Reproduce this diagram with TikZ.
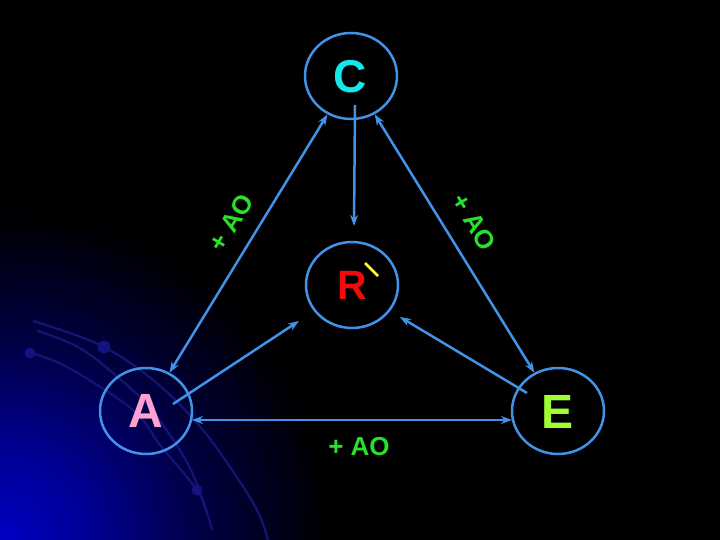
\documentclass[tikz,border=0pt]{standalone}
\usepackage{fontspec}
\setmainfont{Liberation Sans}
\usetikzlibrary{shapes.geometric,arrows.meta}
\definecolor{lineblue}{RGB}{66,146,232}
\definecolor{ccyan}{RGB}{20,232,232}
\definecolor{rred}{RGB}{240,10,10}
\definecolor{apink}{RGB}{255,160,210}
\definecolor{egreen}{RGB}{160,255,50}
\definecolor{aogreen}{RGB}{40,225,40}
\definecolor{pyellow}{RGB}{255,255,40}
\definecolor{arcblue}{RGB}{20,20,115}
\definecolor{cornerblue}{RGB}{0,0,195}
\pgfdeclareradialshading{cornerglow}{\pgfpoint{0bp}{0bp}}{color(0bp)=(cornerblue); color(7bp)=(cornerblue!75!black); color(15bp)=(cornerblue!35!black); color(25bp)=(black); color(50bp)=(black)}
\begin{document}
\begin{tikzpicture}[x=1pt,y=-1pt,
  vertex/.style={ellipse, draw=lineblue, line width=2.5pt, minimum width=92pt, minimum height=86pt, inner sep=0pt},
  conn/.style={draw=lineblue, line width=2.5pt},
  tipend/.style={-{Stealth[length=11pt,width=8pt]}},
  tipboth/.style={{Stealth[length=11pt,width=8pt]}-{Stealth[length=11pt,width=8pt]}},
  letter/.style={font=\bfseries, inner sep=0pt},
  aolabel/.style={font=\bfseries\fontsize{26}{26}\selectfont, text=aogreen, inner sep=0pt},
  arcline/.style={draw=arcblue, line width=2.2pt},
  arcdot/.style={fill=arcblue!90!blue, draw=none}]
% background
\fill[black] (0,0) rectangle (720,540);
\useasboundingbox (0,0) rectangle (720,540);
\begin{scope}
\clip (0,0) rectangle (720,540);
\shade[shading=cornerglow] (0,540) circle (330);
\draw[arcline] plot[smooth, tension=0.6] coordinates {(33,321) (100,345) (153,380) (197,423) (230,467) (257,510) (268,540)};
\draw[arcline] plot[smooth, tension=0.6] coordinates {(37,331) (83,350) (140,397) (165,428) (190,468) (207,513) (212,530)};
\draw[arcline] plot[smooth, tension=0.6] coordinates {(30,353) (67,367) (133,410) (160,445) (197,490) (207,513)};
\fill[arcdot] (104,347) circle (6.5);
\fill[arcdot] (30,353) circle (5.5);
\fill[arcdot] (197,490) circle (5.5);
\end{scope}
% vertices
\node[vertex] (C) at (351,76) {};
\node[vertex] (R) at (352,285) {};
\node[vertex] (A) at (146,411) {};
\node[vertex] (E) at (558,411) {};
\node[letter, font=\bfseries\fontsize{46}{46}\selectfont, text=ccyan] (Ct) at (350,77) {C};
\node[letter, font=\bfseries\fontsize{41}{41}\selectfont, text=rred] (Rt) at (352,285) {R};
\node[letter, font=\bfseries\fontsize{48}{48}\selectfont, text=apink] (At) at (146,411) {A};
\node[letter, font=\bfseries\fontsize{48}{48}\selectfont, text=egreen] (Et) at (558,412) {E};
% prime mark
\coordinate (p1) at (365,263);
\coordinate (p2) at (378,276);
\draw[pyellow, line width=2.8pt] (p1) -- (p2);
% connectors
\coordinate (cs) at (355,105);
\coordinate (rt) at (354,226);
\draw[conn, tipend] (cs) -- (rt);
\draw[conn, tipboth] (A) -- (C);
\draw[conn, tipboth] (C) -- (E);
\coordinate (ae1) at (192,420);
\coordinate (ae2) at (512,420);
\draw[conn, tipboth] (ae1) -- (ae2);
\coordinate (as) at (173,404);
\coordinate (ar) at (299,321);
\draw[conn, tipend] (as) -- (ar);
\coordinate (es) at (527,393);
\coordinate (er) at (400,317);
\draw[conn, tipend] (es) -- (er);
% labels
\node[aolabel, rotate=59] (l1) at (231,223) {+ AO};
\node[aolabel, rotate=-59] (l2) at (474,222) {+ AO};
\node[aolabel] (l3) at (359,447) {+ AO};
\end{tikzpicture}
\end{document}
